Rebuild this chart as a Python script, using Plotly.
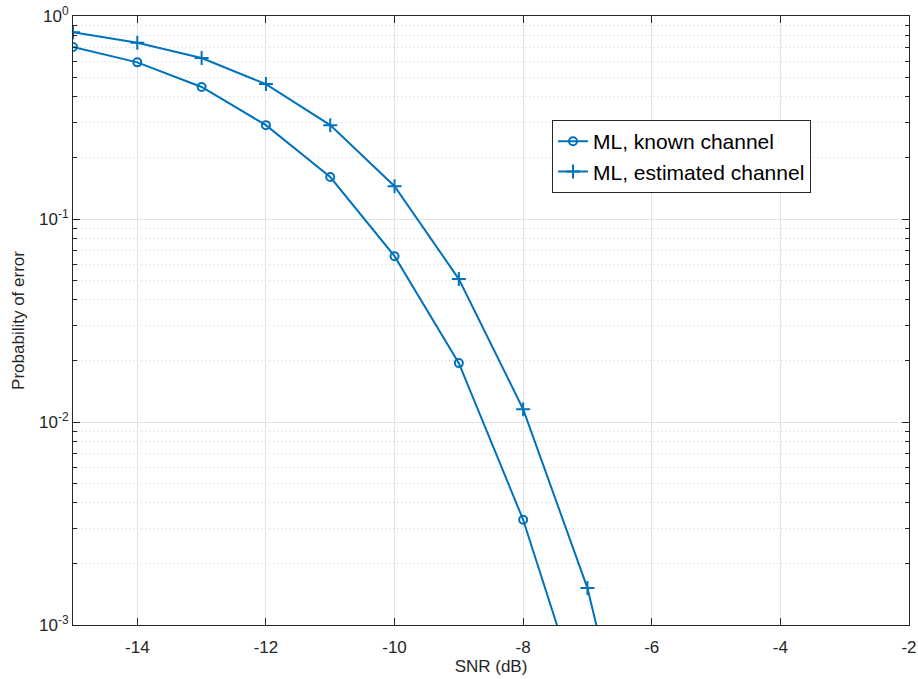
import plotly.graph_objects as go

snr = [-15, -14, -13, -12, -11, -10, -9, -8, -7, -6]
pe_known = [0.703, 0.591, 0.447, 0.290, 0.161, 0.0656, 0.0195, 0.0033, 0.00034]
pe_est = [0.831, 0.738, 0.621, 0.462, 0.290, 0.145, 0.0506, 0.01156, 0.00152, 0.000073]

names = ["ML, known channel", "ML, estimated channel"]
ytick_vals = [1e-3, 1e-2, 1e-1, 1]
ytick_text = ["10<sup>-3</sup>", "10<sup>-2</sup>", "10<sup>-1</sup>", "10<sup>0</sup>"]
xtick_vals = [-14, -12, -10, -8, -6, -4, -2]
xtick_text = ["-14", "-12", "-10", "-8", "-6", "-4", "-2"]

color = "#0072BD"
axcol = "#262626"
font = "Liberation Sans, Arial, Helvetica, sans-serif"

fig = go.Figure()
fig.add_trace(go.Scatter(x=snr[:len(pe_known)], y=pe_known, name=names[0], mode="lines+markers",
                         line=dict(color=color, width=2),
                         marker=dict(symbol="circle-open", size=8, color=color, line=dict(width=2))))
fig.add_trace(go.Scatter(x=snr[:len(pe_est)], y=pe_est, name=names[1], mode="lines+markers",
                         line=dict(color=color, width=2),
                         marker=dict(symbol="cross-thin-open", size=10, color=color, line=dict(width=2, color=color))))

minor_vals = []
for e in [-3, -2, -1]:
    for m in range(2, 10):
        minor_vals.append(m * 10 ** e)

fig.update_layout(
    width=918, height=679,
    margin=dict(l=73, r=9, t=16, b=54),
    paper_bgcolor="white", plot_bgcolor="white",
    font=dict(family=font, size=17, color=axcol),
    showlegend=True,
    legend=dict(x=0.573, y=0.829, xanchor="left", yanchor="top",
                bgcolor="white", bordercolor="#262626", borderwidth=1,
                font=dict(size=21, color="black"), tracegroupgap=0,
                itemwidth=30),
    xaxis=dict(range=[-15, -2], tickvals=xtick_vals, ticktext=xtick_text, ticks="inside", ticklen=7,
               tickcolor=axcol, showline=True, linecolor=axcol, linewidth=1, mirror="ticks",
               showgrid=True, gridcolor="#e3e3e3", gridwidth=1, zeroline=False, automargin=False,
               ticklabelstandoff=7,
               title=dict(text="SNR (dB)", font=dict(size=17), standoff=2),
               tickfont=dict(size=17)),
    yaxis=dict(type="log", range=[-3, 0], tickvals=ytick_vals, ticktext=ytick_text,
               ticks="inside", ticklen=7, tickcolor=axcol, showline=True, linecolor=axcol,
               linewidth=1, mirror="ticks", showgrid=True, gridcolor="#e3e3e3", gridwidth=1,
               zeroline=False, automargin=False,
               title=dict(text="Probability of error", font=dict(size=17), standoff=10),
               tickfont=dict(size=17),
               minor=dict(tickvals=minor_vals, ticks="inside", ticklen=4, tickcolor=axcol,
                          showgrid=True, gridcolor="#cfcfcf", griddash="1px,3px", gridwidth=1)),
)

fig.write_html("out.html")
